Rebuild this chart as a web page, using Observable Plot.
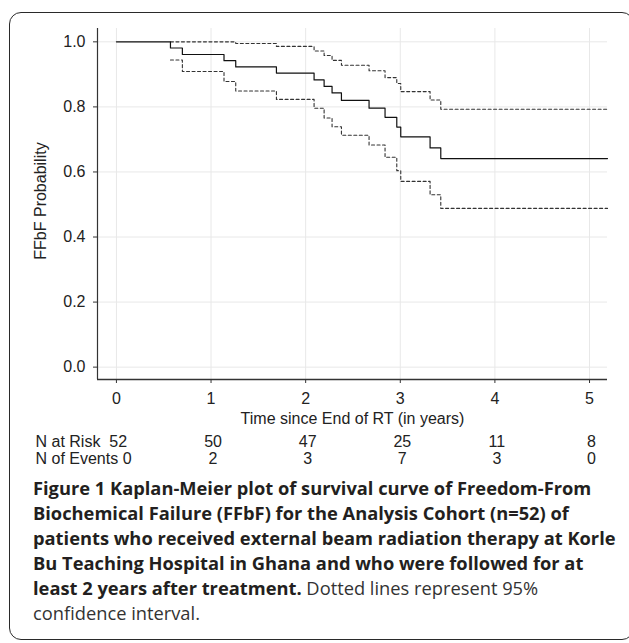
<!DOCTYPE html>
<html>
<head>
<meta charset="utf-8">
<script src="https://cdn.jsdelivr.net/npm/d3@7"></script>
<script src="https://cdn.jsdelivr.net/npm/@observablehq/plot@0.6"></script>
<style>
  html, body { margin: 0; padding: 0; background: #fff; }
  #page { position: relative; width: 629px; height: 643px; overflow: hidden; background: #fff; }
  #frame { position: absolute; left: 9px; top: 12px; width: 625px; height: 628px;
           border: 1.6px solid #2a2a2a; border-radius: 12px; box-sizing: border-box; }
  #main { position: absolute; left: 0; top: 0; }
  #risk { position: absolute; left: 0; top: 430px; }
  #caption { position: absolute; left: 33px; top: 475px; white-space: nowrap;
             font-family: "Open Sans", sans-serif; font-size: 18.3px; line-height: 25px; color: #333; }
  #caption b { color: #231f20; font-weight: 700; }
</style>
</head>
<body>
<div id="page">
  <div id="frame"></div>
  <div id="main"></div>
  <div id="risk"></div>
  <div id="caption"></div>
</div>
<script>
// ---- data ----
const kmTime = [0, 0.571, 0.697, 1.137, 1.261, 1.691, 2.089, 2.195, 2.279, 2.378, 2.670, 2.839, 2.963, 3.005, 3.315, 3.428, 5.19];
const kmSurv = [1, 0.981, 0.961, 0.942, 0.923, 0.904, 0.883, 0.863, 0.843, 0.820, 0.796, 0.768, 0.738, 0.708, 0.674, 0.641, 0.641];

const ciTime  = [0.571, 0.697, 1.137, 1.261, 1.691, 2.089, 2.195, 2.279, 2.378, 2.670, 2.839, 2.963, 3.005, 3.315, 3.428, 5.19];
const ciUpper = [1, 1, 1, 0.995, 0.986, 0.972, 0.958, 0.943, 0.928, 0.911, 0.890, 0.872, 0.847, 0.821, 0.793, 0.793];
const ciLower = [0.944, 0.909, 0.878, 0.849, 0.823, 0.796, 0.766, 0.739, 0.713, 0.683, 0.645, 0.604, 0.571, 0.530, 0.488, 0.488];

const xTicks = [0, 1, 2, 3, 4, 5];
const yTicks = [0, 0.2, 0.4, 0.6, 0.8, 1.0];

const riskTime = [0, 1, 2, 3, 4, 5];
const nAtRisk  = [52, 50, 47, 25, 11, 8];
const nEvents  = [0, 2, 3, 7, 3, 0];
const rowNames = ["N at Risk", "N of Events"];

const xLabel = "Time since End of RT (in years)";
const yLabel = "FFbF Probability";

const captionBold = ["Figure 1 Kaplan-Meier plot of survival curve of Freedom-From",
  "Biochemical Failure (FFbF) for the Analysis Cohort (n=52) of",
  "patients who received external beam radiation therapy at Korle",
  "Bu Teaching Hospital in Ghana and who were followed for at",
  "least 2 years after treatment."];
const captionPlain = [" Dotted lines represent 95%", "confidence interval."];

// ---- scales ----
const xDomain = [-0.2, 5.19];
const yDomain = [-0.038, 1.041];
const font = "'Liberation Sans', Arial, sans-serif";

const main = Plot.plot({
  width: 629, height: 430,
  marginLeft: 97, marginRight: 22, marginTop: 28, marginBottom: 51,
  style: { fontFamily: font, fontSize: "16px", color: "#333", background: "transparent" },
  x: { domain: xDomain },
  y: { domain: yDomain },
  marks: [
    Plot.gridX(xTicks, { stroke: "#e8e8e8", strokeOpacity: 1 }),
    Plot.gridY(yTicks, { stroke: "#e8e8e8", strokeOpacity: 1 }),
    Plot.line(ciTime, { x: ciTime, y: ciUpper, curve: "step-after", stroke: "#333", strokeWidth: 1.1, strokeDasharray: "3,2.5" }),
    Plot.line(ciTime, { x: ciTime, y: ciLower, curve: "step-after", stroke: "#333", strokeWidth: 1.1, strokeDasharray: "3,2.5" }),
    Plot.line(kmTime, { x: kmTime, y: kmSurv, curve: "step-after", stroke: "#111", strokeWidth: 1.2 }),
    Plot.ruleX([xDomain[0]], { stroke: "#333", strokeWidth: 1.2 }),
    Plot.ruleY([yDomain[0]], { stroke: "#333", strokeWidth: 1.5 }),
    Plot.axisX(xTicks, { tickSize: 4, tickPadding: 9, label: null, stroke: "#333", fill: "#222" }),
    Plot.axisY(yTicks, { tickSize: 4, tickPadding: 8, label: null, tickFormat: d3.format(".1f"), stroke: "#333", fill: "#222" }),
    Plot.text([xLabel], { frameAnchor: "bottom", lineAnchor: "middle", dy: 39, text: d => d, fill: "#222" }),
    Plot.text([yLabel], { frameAnchor: "left", textAnchor: "middle", lineAnchor: "middle", dx: -57, dy: -3, rotate: -90, text: d => d, fill: "#222" })
  ]
});
document.getElementById("main").appendChild(main);

// ---- risk table ----
const riskRows = [];
riskTime.forEach((t, i) => {
  if (i > 0) {
    riskRows.push({ t, row: rowNames[0], v: nAtRisk[i] });
    riskRows.push({ t, row: rowNames[1], v: nEvents[i] });
  }
});
const firstVals = [nAtRisk[0], nEvents[0]];

const risk = Plot.plot({
  width: 629, height: 40,
  marginLeft: 97, marginRight: 22, marginTop: 0, marginBottom: 0,
  style: { fontFamily: font, fontSize: "16px", color: "#222", background: "transparent" },
  x: { domain: xDomain, axis: null },
  y: { type: "point", domain: rowNames, range: [11, 28], padding: 0, axis: null },
  marks: [
    Plot.text(riskRows, { x: "t", y: "row", text: "v", dx: 2, fill: "#222" }),
    Plot.text(rowNames, { y: d => d, frameAnchor: "left", dx: -62, textAnchor: "start", fill: "#222",
      text: (d, i) => d + (i === 0 ? "\u00a0\u00a0" : "\u00a0") + firstVals[i] })
  ]
});
document.getElementById("risk").appendChild(risk);

// ---- caption ----
const cap = document.getElementById("caption");
let html = "";
captionBold.forEach((line, i) => {
  html += "<b>" + line + "</b>";
  if (i < captionBold.length - 1) html += "<br>";
});
html += captionPlain[0] + "<br>" + captionPlain[1];
cap.innerHTML = html;
</script>
</body>
</html>
